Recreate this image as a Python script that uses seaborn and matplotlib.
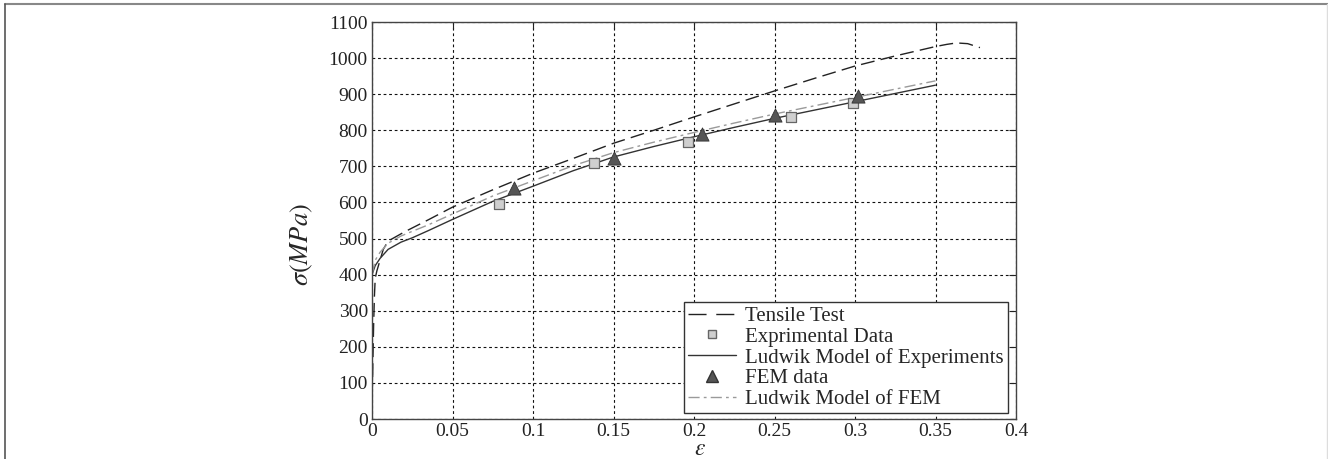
import matplotlib
matplotlib.use("Agg")
import matplotlib.pyplot as plt
import seaborn as sns
import pandas as pd
from matplotlib.lines import Line2D

# Tensile test curve
tensile_eps = [0.0, 0.0003, 0.0006, 0.001, 0.0015, 0.002, 0.003, 0.005, 0.007, 0.01,
               0.02, 0.035, 0.05, 0.075, 0.1, 0.125, 0.15, 0.175, 0.2, 0.225,
               0.25, 0.275, 0.3, 0.325, 0.35, 0.357, 0.363, 0.37, 0.3776]
tensile_sig = [60, 100, 170, 260, 340, 390, 410, 440, 470, 493,
               518, 552, 587, 635, 681, 722, 764, 800, 837, 873,
               909, 944, 978, 1006, 1032, 1038, 1042, 1040, 1029]

# Ludwik model fitted to the experiments
lud_exp_eps = [0.0, 0.002, 0.005, 0.01, 0.018, 0.025, 0.035, 0.05, 0.075, 0.1,
               0.125, 0.15, 0.175, 0.2, 0.225, 0.25, 0.275, 0.3, 0.325, 0.35]
lud_exp_sig = [400, 425, 445, 470, 490, 502, 522, 553, 603, 645,
               688, 726, 755, 782, 808, 833, 856, 879, 902, 925]

# Ludwik model fitted to the FEM data
lud_fem_eps = [0.0, 0.002, 0.005, 0.01, 0.018, 0.025, 0.035, 0.05, 0.075, 0.1,
               0.125, 0.15, 0.175, 0.2, 0.225, 0.25, 0.275, 0.3, 0.325, 0.35]
lud_fem_sig = [400, 440, 462, 487, 507, 520, 538, 568, 618, 660,
               702, 738, 767, 794, 820, 845, 868, 891, 914, 937]

# Experimental points
exp_eps = [0.079, 0.138, 0.196, 0.26, 0.299]
exp_sig = [597, 710, 767, 837, 876]

# FEM points
fem_eps = [0.088, 0.15, 0.205, 0.25, 0.302]
fem_sig = [639, 724, 789, 842, 895]

sns.set_style("white")
plt.rcParams['font.family'] = ['Liberation Serif', 'DejaVu Serif']
plt.rcParams['mathtext.fontset'] = 'stix'

fig = plt.figure(figsize=(13.28, 4.59), dpi=100)
ax = fig.add_axes([372 / 1328, 1 - 419 / 459, 644 / 1328, 397 / 459])

sns.lineplot(x=tensile_eps, y=tensile_sig, ax=ax, sort=False, estimator=None,
             color='#222222', linewidth=1.0, linestyle=(0, (10, 4.5)))
sns.lineplot(x=lud_exp_eps, y=lud_exp_sig, ax=ax, sort=False, estimator=None,
             color='#333333', linewidth=1.0)
sns.lineplot(x=lud_fem_eps, y=lud_fem_sig, ax=ax, sort=False, estimator=None,
             color='#9a9a9a', linewidth=1.0, linestyle=(0, (8, 3, 2, 3)))
sns.scatterplot(x=exp_eps, y=exp_sig, ax=ax, marker='s', s=45,
                color='#cfcfcf', edgecolor='#666666', linewidth=0.9, zorder=5)
sns.scatterplot(x=fem_eps, y=fem_sig, ax=ax, marker='^', s=90,
                color='#555555', edgecolor='#333333', linewidth=0.6, zorder=6)

ax.set_xlim(0, 0.4)
ax.set_ylim(0, 1100)
ax.set_xticks([0, 0.05, 0.1, 0.15, 0.2, 0.25, 0.3, 0.35, 0.4])
ax.set_xticklabels(['0', '0.05', '0.1', '0.15', '0.2', '0.25', '0.3', '0.35', '0.4'])
ax.set_yticks(range(0, 1101, 100))
ax.tick_params(direction='in', top=True, right=True, length=5, width=0.8,
               labelsize=14, colors='#222222', pad=3)
ax.grid(True, color='#111111', linestyle=(0, (2.5, 2.5)), linewidth=0.8)
for sp in ax.spines.values():
    sp.set_color('#444444')
    sp.set_linewidth(1.0)

ax.set_xlabel(r'$\varepsilon$', fontsize=17)
ax.xaxis.set_label_coords(0.51, -0.05)
ax.set_ylabel(r'$\sigma(MPa)$', fontsize=19)
ax.yaxis.set_label_coords(-0.088, 0.44)

handles = [
    Line2D([], [], color='#222222', linewidth=1.0, linestyle=(0, (13, 7))),
    Line2D([], [], color='none', marker='s', markersize=6,
           markerfacecolor='#cfcfcf', markeredgecolor='#666666'),
    Line2D([], [], color='#333333', linewidth=1.0),
    Line2D([], [], color='none', marker='^', markersize=8,
           markerfacecolor='#555555', markeredgecolor='#333333'),
    Line2D([], [], color='#9a9a9a', linewidth=1.0, linestyle=(0, (8, 3, 2, 3))),
]
labels = ['Tensile Test', 'Exprimental Data', 'Ludwik Model of Experiments',
          'FEM data', 'Ludwik Model of FEM']
leg = ax.legend(handles, labels, loc='lower right', bbox_to_anchor=(0.9875, 0.015),
                fontsize=15, frameon=True, fancybox=False, framealpha=1,
                edgecolor='#333333', handlelength=2.3, handletextpad=0.45,
                labelspacing=0.05, borderpad=0.2, borderaxespad=0)
leg.get_frame().set_linewidth(1.0)

# outer frame of the original figure
fig.add_artist(Line2D([5 / 1328, 1], [1 - 4 / 459, 1 - 4 / 459], color='#888888', linewidth=1.5))
fig.add_artist(Line2D([5 / 1328, 5 / 1328], [0, 1 - 4 / 459], color='#555555', linewidth=1.2))
fig.add_artist(Line2D([1327 / 1328, 1327 / 1328], [0, 1 - 4 / 459], color='#dddddd', linewidth=1.0))

fig.savefig('out.png', dpi=100, facecolor='white')
